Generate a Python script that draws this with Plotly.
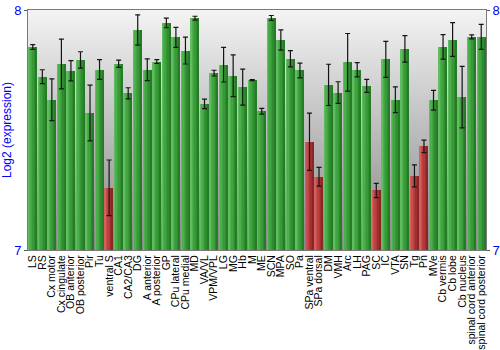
import plotly.graph_objects as go

# Brain regions and their mean log2 expression with error (± half-range)
regions = [
    "LS", "RS", "Cx motor", "Cx cingulate", "OB anterior", "OB posterior", "Pir", "Tu",
    "ventral S", "CA1", "CA2/CA3", "DG", "A anterior", "A posterior", "GP", "CPu lateral",
    "CPu medial", "MD", "VA/VL", "VPM/VPL", "LG", "MG", "Hb", "M", "ME", "SCN", "MPA",
    "SO", "Pa", "SPa ventral", "SPa dorsal", "DM", "VMH", "Arc", "LH", "PAG", "SC", "IC",
    "VTA", "SN", "Tg", "Pn", "MVe", "Cb vermis", "Cb lobe", "Cb nucleus",
    "spinal cord anterior", "spinal cord posterior",
]
expression = [
    7.846, 7.722, 7.626, 7.775, 7.747, 7.792, 7.571, 7.752,
    7.259, 7.776, 7.653, 7.917, 7.751, 7.785, 7.946, 7.886,
    7.831, 7.966, 7.609, 7.737, 7.772, 7.726, 7.679, 7.708, 7.578, 7.967, 7.875,
    7.797, 7.748, 7.451, 7.305, 7.688, 7.656, 7.782, 7.751, 7.684, 7.248, 7.794,
    7.626, 7.838, 7.309, 7.432, 7.624, 7.846, 7.877, 7.637,
    7.888, 7.888,
]
error = [
    0.010, 0.029, 0.087, 0.104, 0.042, 0.034, 0.116, 0.041,
    0.116, 0.015, 0.023, 0.063, 0.045, 0.008, 0.020, 0.042,
    0.056, 0.008, 0.020, 0.012, 0.072, 0.087, 0.075, 0.002, 0.012, 0.010, 0.042,
    0.034, 0.031, 0.119, 0.039, 0.086, 0.045, 0.120, 0.030, 0.027, 0.030, 0.075,
    0.054, 0.055, 0.046, 0.026, 0.041, 0.051, 0.070, 0.128,
    0.008, 0.052,
]
# Regions with reduced expression, drawn in red
low_regions = ["ventral S", "SPa ventral", "SPa dorsal", "SC", "Tg", "Pn"]

y_ticks = [7, 8]

positions = list(range(len(regions)))

# Cylinder-style shading: each bar is built from vertical slices, light to dark
green_shades = ["#62bc62", "#4caf4c", "#40a440", "#379937", "#2f8c2f", "#267c26"]
red_shades = ["#d46060", "#c84e4e", "#bc4242", "#b03838", "#a02f2f", "#8c2626"]

fig = go.Figure()

# Gray vertical gradient behind the plot area
n_bands = 80
top_rgb = (244, 244, 244)
bot_rgb = (134, 134, 134)
for b in range(n_bands):
    t = (b + 0.5) / n_bands
    c = tuple(round(top_rgb[k] + (bot_rgb[k] - top_rgb[k]) * t) for k in range(3))
    fig.add_shape(
        type="rect", xref="paper", yref="paper",
        x0=0, x1=1, y0=1 - (b + 1) / n_bands, y1=1 - b / n_bands + 0.002,
        fillcolor="rgb(%d,%d,%d)" % c, line=dict(width=0), layer="below",
    )

bar_w = 0.88
n_slices = len(green_shades)
for k in range(n_slices):
    colors = [
        (red_shades if r in low_regions else green_shades)[k] for r in regions
    ]
    fig.add_trace(go.Bar(
        x=positions, y=expression,
        width=bar_w / n_slices,
        offset=-bar_w / 2 + k * bar_w / n_slices,
        marker=dict(color=colors, line=dict(width=0)),
        showlegend=False, hoverinfo="skip",
    ))

# Error bars centred on each bar
fig.add_trace(go.Scatter(
    x=positions, y=expression, mode="markers",
    marker=dict(size=1, opacity=0),
    error_y=dict(type="data", array=error, color="#151515", thickness=1.2, width=2.5),
    showlegend=False, hoverinfo="skip",
))

# Invisible trace carrying the right-hand axis
fig.add_trace(go.Scatter(
    x=[positions[0]], y=[y_ticks[0]], yaxis="y2", mode="markers",
    marker=dict(opacity=0), showlegend=False, hoverinfo="skip",
))

fig.update_layout(
    width=500, height=350,
    margin=dict(l=28, r=14, t=10, b=100, autoexpand=False),
    paper_bgcolor="white", plot_bgcolor="#bdbdbd",
    barmode="overlay", bargap=0,
    font=dict(family="Liberation Sans, Arial, sans-serif", color="black"),
    xaxis=dict(
        range=[-0.5, len(regions) - 0.5], automargin=False,
        tickmode="array", tickvals=positions, ticktext=regions,
        tickangle=-90, tickfont=dict(size=10.5, color="black"),
        ticks="", showgrid=False, zeroline=False,
        showline=True, linecolor="#7a7a7a", linewidth=1, mirror=True,
    ),
    yaxis=dict(
        range=[7, 8], tickmode="array", tickvals=y_ticks, automargin=False,
        tickfont=dict(size=13, color="#0000ff"),
        ticks="outside", ticklen=3, tickcolor="#555555",
        showgrid=False, zeroline=False,
        showline=True, linecolor="#7a7a7a", linewidth=1,
        title=dict(text="Log2 (expression)", font=dict(size=12, color="#0000ff"), standoff=2),
    ),
    yaxis2=dict(
        range=[7, 8], tickmode="array", tickvals=y_ticks, automargin=False,
        overlaying="y", side="right",
        tickfont=dict(size=13, color="#0000ff"),
        ticks="outside", ticklen=3, tickcolor="#555555",
        showgrid=False, zeroline=False,
        showline=True, linecolor="#7a7a7a", linewidth=1,
    ),
)

fig.write_html("out.html")
